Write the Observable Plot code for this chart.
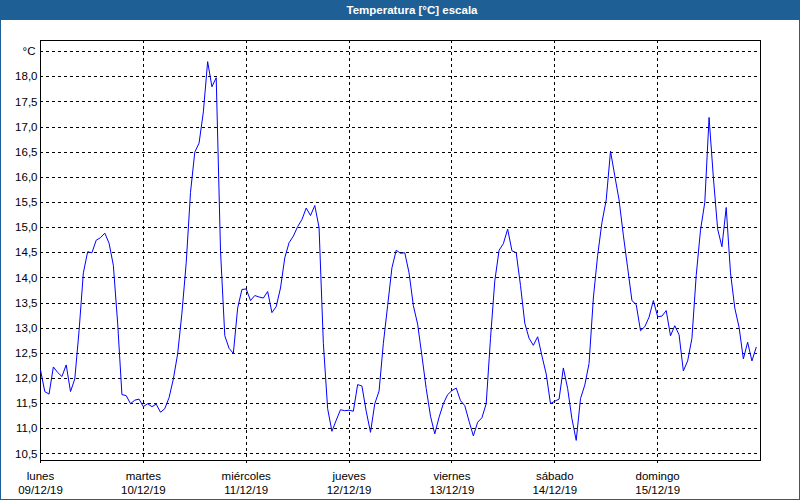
<!DOCTYPE html>
<html>
<head>
<meta charset="utf-8">
<script src="https://cdn.jsdelivr.net/npm/d3@7"></script>
<script src="https://cdn.jsdelivr.net/npm/@observablehq/plot@0.6"></script>
<style>
  html, body { margin: 0; padding: 0; background: #fff; }
  #win { position: relative; width: 800px; height: 500px; overflow: hidden; background: #fff;
         font-family: Tahoma, "Liberation Sans", Arial, sans-serif; }
  #title { position: absolute; left: 0; top: 0; width: 800px; height: 20px; background: #1e5f96;
           color: #fff; font-weight: bold; font-size: 11.5px; line-height: 20px; text-align: center;
           padding-left: 24px; box-sizing: border-box; }
  #chart { position: absolute; left: 0; top: 20px; }
  #frame { position: absolute; left: 0; top: 0; width: 800px; height: 500px; box-sizing: border-box;
           border: 1px solid #1e5f96; border-top: none; pointer-events: none; }
</style>
</head>
<body>
<div id="win">
  <div id="title">Temperatura [°C] escala</div>
  <div id="chart"></div>
  <div id="frame"></div>
</div>
<script>
// Day categories (x axis)
const dayNames = ["lunes", "martes", "miércoles", "jueves", "viernes", "sábado", "domingo"];
const dayDates = ["09/12/19", "10/12/19", "11/12/19", "12/12/19", "13/12/19", "14/12/19", "15/12/19"];
const dayStartHours = [0, 24, 48, 72, 96, 120, 144];

// Y axis ticks
const yTicks = [10.5, 11.0, 11.5, 12.0, 12.5, 13.0, 13.5, 14.0, 14.5, 15.0, 15.5, 16.0, 16.5, 17.0, 17.5, 18.0];
const yGrid = [10.5, 11.0, 11.5, 12.0, 12.5, 13.0, 13.5, 14.0, 14.5, 15.0, 15.5, 16.0, 16.5, 17.0, 17.5, 18.0, 18.5];
const unitLabel = "°C";

// Hourly temperatures (°C), one array per day
const tempLunes = [12.17, 11.74, 11.69, 12.23, 12.12, 12.04, 12.27, 11.74, 11.99, 12.95, 14.10, 14.52,
                   14.50, 14.75, 14.80, 14.89, 14.69, 14.25, 13.10, 11.68, 11.66, 11.50, 11.57, 11.59];
const tempMartes = [11.44, 11.50, 11.44, 11.49, 11.33, 11.40, 11.62, 11.99, 12.49, 13.30, 14.30, 15.70,
                    16.50, 16.68, 17.30, 18.30, 17.80, 17.98, 14.54, 12.85, 12.60, 12.50, 13.40, 13.77];
const tempMiercoles = [13.78, 13.55, 13.65, 13.62, 13.60, 13.73, 13.31, 13.43, 13.80, 14.40, 14.70, 14.83,
                       15.02, 15.16, 15.39, 15.24, 15.44, 15.00, 12.70, 11.40, 10.95, 11.17, 11.38, 11.36];
const tempJueves = [11.37, 11.35, 11.88, 11.85, 11.35, 10.93, 11.50, 11.75, 12.70, 13.45, 14.20, 14.55,
                    14.49, 14.50, 14.10, 13.45, 13.08, 12.45, 11.80, 11.25, 10.90, 11.23, 11.50, 11.68];
const tempViernes = [11.76, 11.81, 11.56, 11.46, 11.15, 10.86, 11.13, 11.22, 11.50, 12.80, 13.94, 14.55,
                     14.68, 14.97, 14.54, 14.50, 13.85, 13.10, 12.80, 12.66, 12.83, 12.45, 12.09, 11.50];
const tempSabado = [11.55, 11.59, 12.21, 11.80, 11.20, 10.77, 11.60, 11.87, 12.30, 13.60, 14.45, 15.10,
                    15.55, 16.52, 16.03, 15.55, 14.85, 14.20, 13.55, 13.47, 12.95, 13.03, 13.22, 13.55];
const tempDomingo = [13.23, 13.24, 13.35, 12.85, 13.05, 12.87, 12.15, 12.35, 12.80, 14.05, 14.95, 15.50,
                     17.19, 16.00, 14.97, 14.62, 15.40, 14.10, 13.40, 13.02, 12.39, 12.72, 12.35, 12.62];

const allDays = [tempLunes, tempMartes, tempMiercoles, tempJueves, tempViernes, tempSabado, tempDomingo];
const data = [];
allDays.forEach((arr, d) => arr.forEach((t, h) => data.push({hour: d * 24 + h, temp: t})));

const fmt = v => v.toFixed(1).replace(".", ",");
const font = 'Tahoma, "Liberation Sans", Arial, sans-serif';

const chart = Plot.plot({
  width: 800,
  height: 480,
  marginLeft: 40,
  marginRight: 40,
  marginTop: 20,
  marginBottom: 40,
  x: {domain: [0, 168], axis: null, label: null},
  y: {domain: [10.37, 18.72], axis: null, label: null},
  style: {fontFamily: font, fontSize: "11.5px", color: "#000", background: "transparent", overflow: "visible"},
  marks: [
    Plot.gridY(yGrid, {stroke: "#000", strokeOpacity: 1, strokeDasharray: "3,3", shapeRendering: "crispEdges"}),
    Plot.gridX(dayStartHours.slice(1), {stroke: "#000", strokeOpacity: 1, strokeDasharray: "3,3", shapeRendering: "crispEdges"}),
    Plot.axisX(dayStartHours, {anchor: "bottom", label: null, tickSize: 3, tickFormat: () => "", stroke: "#000", shapeRendering: "crispEdges"}),
    Plot.axisY(yTicks, {anchor: "left", label: null, tickSize: 0, tickPadding: 3, tickFormat: fmt, fill: "#000"}),
    Plot.frame({stroke: "#000", shapeRendering: "crispEdges"}),
    Plot.line(data, {x: "hour", y: "temp", stroke: "#0000ff", strokeWidth: 1}),
    Plot.text([unitLabel], {frameAnchor: "top-left", dx: -5, dy: 6, textAnchor: "end", fill: "#000"}),
    Plot.text(dayStartHours, {x: d => d, text: (d, i) => dayNames[i], frameAnchor: "bottom", dy: 19, fill: "#000"}),
    Plot.text(dayStartHours, {x: d => d, text: (d, i) => dayDates[i], frameAnchor: "bottom", dy: 33, fill: "#000"})
  ]
});
document.getElementById("chart").appendChild(chart);
</script>
</body>
</html>
